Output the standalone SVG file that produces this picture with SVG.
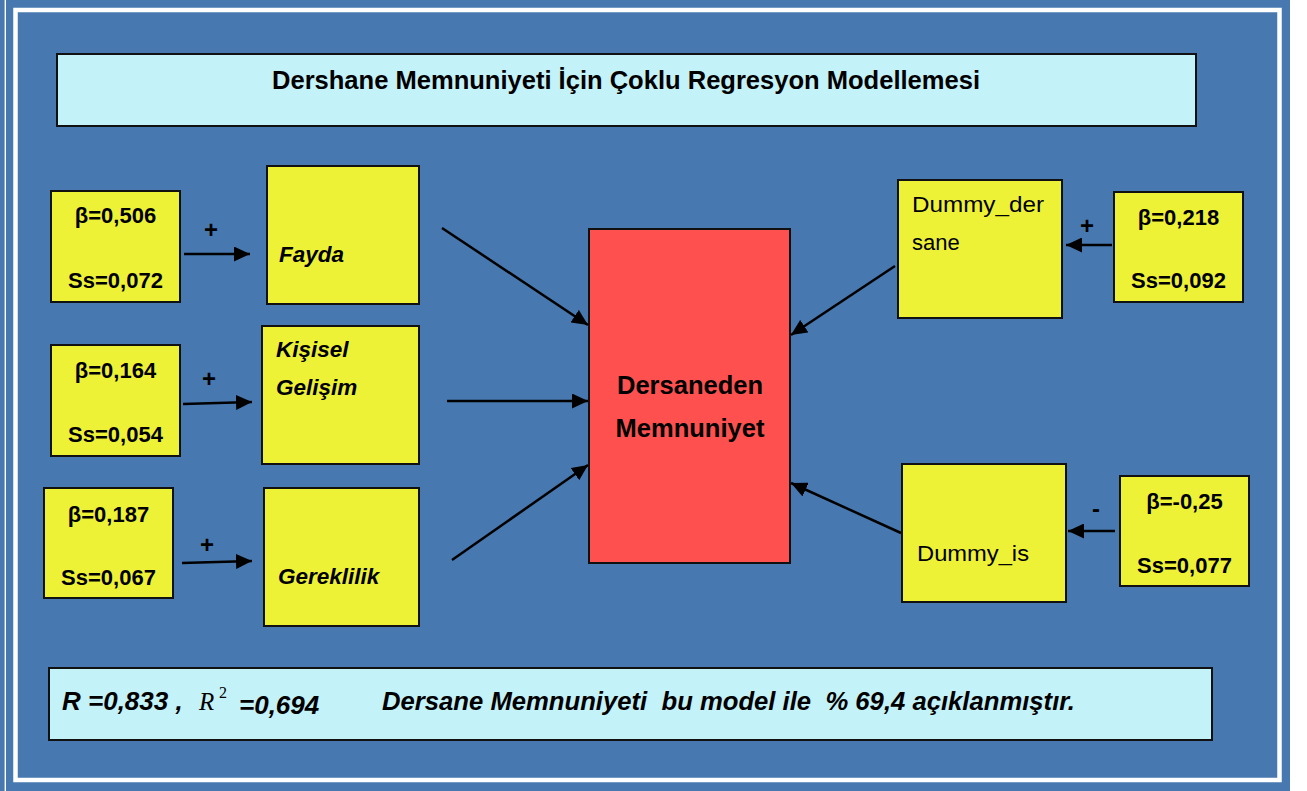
<svg xmlns="http://www.w3.org/2000/svg" width="1307" height="791" viewBox="0 0 1307 791">
<style>
.bx{stroke:#111;stroke-width:2}
.yel{fill:#EEF236}
.cy{fill:#C4F2F9}
.t{font-family:"Liberation Sans",Arial,sans-serif;fill:#000}
.b{font-weight:bold}
.i{font-style:italic}
.c{text-anchor:middle}
.conn line{stroke:#000;stroke-width:2.5}
</style>
<defs>
<marker id="ah" markerUnits="userSpaceOnUse" markerWidth="17" markerHeight="15" refX="16" refY="7.5" orient="auto">
<path d="M0,0 L16,7.5 L0,15 z" fill="#000"/>
</marker>
</defs>
<rect x="0" y="0" width="1307" height="791" fill="#fff"/>
<rect x="0" y="0" width="1290" height="791" fill="#4778B0"/>
<line x1="5.3" y1="0" x2="5.3" y2="791" stroke="#fff" stroke-width="1.4"/>
<rect x="15.5" y="10" width="1264" height="770" fill="none" stroke="#fff" stroke-width="4.5"/>

<g id="title">
<rect class="bx cy" x="57" y="54" width="1139" height="72"/>
<text class="t b" x="272" y="89" font-size="26" textLength="708" lengthAdjust="spacingAndGlyphs">Dershane Memnuniyeti İçin Çoklu Regresyon Modellemesi</text>
</g>

<g id="beta1">
<rect class="bx yel" x="51" y="191" width="129" height="111"/>
<text class="t b c" x="115.5" y="223" font-size="22">β=0,506</text>
<text class="t b c" x="115.5" y="288" font-size="22">Ss=0,072</text>
</g>
<g id="beta2">
<rect class="bx yel" x="51" y="345" width="129" height="111"/>
<text class="t b c" x="115.5" y="378" font-size="22">β=0,164</text>
<text class="t b c" x="115.5" y="442" font-size="22">Ss=0,054</text>
</g>
<g id="beta3">
<rect class="bx yel" x="44" y="488" width="129" height="110"/>
<text class="t b c" x="108.5" y="522" font-size="22">β=0,187</text>
<text class="t b c" x="108.5" y="585" font-size="22">Ss=0,067</text>
</g>

<g id="fayda">
<rect class="bx yel" x="267" y="166" width="152" height="138"/>
<text class="t b i" x="279" y="262" font-size="22.5">Fayda</text>
</g>
<g id="kisisel">
<rect class="bx yel" x="262" y="326" width="157" height="138"/>
<text class="t b i" x="276" y="357" font-size="22.5">Kişisel</text>
<text class="t b i" x="276" y="395" font-size="22.5">Gelişim</text>
</g>
<g id="gereklilik">
<rect class="bx yel" x="264" y="488" width="155" height="138"/>
<text class="t b i" x="278" y="584" font-size="22.5">Gereklilik</text>
</g>

<g id="memnuniyet">
<rect class="bx" fill="#FF5050" x="589" y="229" width="201" height="334"/>
<text class="t b c" x="690" y="394" font-size="25.5">Dersaneden</text>
<text class="t b c" x="690" y="437" font-size="25.5">Memnuniyet</text>
</g>

<g id="dummy_dersane">
<rect class="bx yel" x="898" y="180" width="164" height="138"/>
<text class="t" x="912" y="212" font-size="22" textLength="132" lengthAdjust="spacingAndGlyphs">Dummy_der</text>
<text class="t" x="912" y="250" font-size="22">sane</text>
</g>
<g id="dummy_is">
<rect class="bx yel" x="902" y="464" width="164" height="138"/>
<text class="t" x="917" y="561" font-size="22" textLength="112" lengthAdjust="spacingAndGlyphs">Dummy_is</text>
</g>

<g id="beta4">
<rect class="bx yel" x="1114" y="192" width="129" height="110"/>
<text class="t b c" x="1178.5" y="225" font-size="22">β=0,218</text>
<text class="t b c" x="1178.5" y="288" font-size="22">Ss=0,092</text>
</g>
<g id="beta5">
<rect class="bx yel" x="1120" y="476" width="129" height="110"/>
<text class="t b c" x="1184.5" y="509" font-size="22">β=-0,25</text>
<text class="t b c" x="1184.5" y="573" font-size="22">Ss=0,077</text>
</g>

<g id="summary">
<rect class="bx cy" x="49" y="668" width="1163" height="72"/>
<text class="t b i" x="62" y="710" font-size="26" style="white-space:pre">R =0,833 ,</text>
<text x="199" y="710" font-family="'Liberation Serif','Times New Roman',serif" font-style="italic" font-size="25">R</text>
<text x="219" y="698" font-family="'Liberation Serif','Times New Roman',serif" font-size="16">2</text>
<text class="t b i" x="239" y="714" font-size="26">=0,694</text>
<text class="t b i" x="382" y="710" font-size="26" style="white-space:pre" textLength="693" lengthAdjust="spacingAndGlyphs">Dersane Memnuniyeti  bu model ile  % 69,4 açıklanmıştır.</text>
</g>

<g id="connectors" class="conn">
<line x1="184" y1="254" x2="250" y2="254" marker-end="url(#ah)"/>
<line x1="183" y1="404" x2="252" y2="402" marker-end="url(#ah)"/>
<line x1="182" y1="563" x2="252" y2="561" marker-end="url(#ah)"/>
<line x1="1112" y1="245" x2="1066" y2="245" marker-end="url(#ah)"/>
<line x1="1115" y1="531" x2="1068" y2="531" marker-end="url(#ah)"/>
<line x1="442" y1="228" x2="588" y2="325" marker-end="url(#ah)"/>
<line x1="447" y1="401" x2="588" y2="401" marker-end="url(#ah)"/>
<line x1="452" y1="560" x2="588" y2="465" marker-end="url(#ah)"/>
<line x1="895" y1="266" x2="791" y2="335" marker-end="url(#ah)"/>
<line x1="901" y1="533" x2="791" y2="483" marker-end="url(#ah)"/>
<text class="t b c" x="211" y="238" font-size="24">+</text>
<text class="t b c" x="209" y="387" font-size="24">+</text>
<text class="t b c" x="207" y="553" font-size="24">+</text>
<text class="t b c" x="1087" y="234" font-size="24">+</text>
<text class="t b c" x="1096" y="517" font-size="24">-</text>
</g>
</svg>
